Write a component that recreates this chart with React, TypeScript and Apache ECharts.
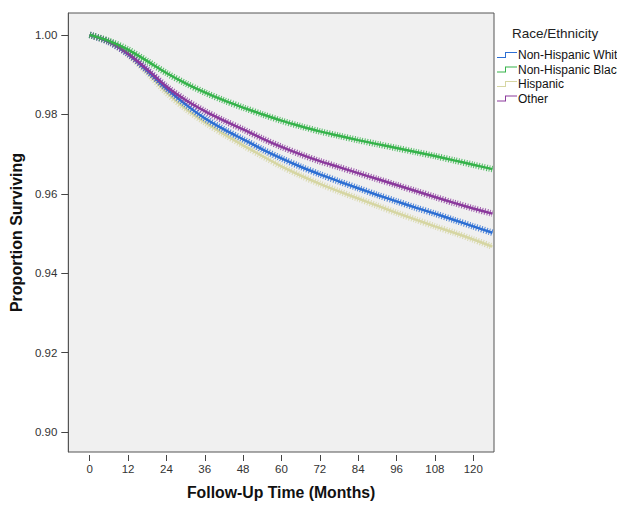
import React, { useEffect, useRef } from "react";
import * as echarts from "echarts";

const months = [0, 6, 12, 18, 24, 30, 36, 42, 48, 54, 60, 66, 72, 78, 84, 90, 96, 102, 108, 114, 120, 126];
const white = [1.0, 0.9982, 0.9952, 0.991, 0.9865, 0.9825, 0.979, 0.9762, 0.9737, 0.9712, 0.9689, 0.9668, 0.9649, 0.9631, 0.9614, 0.9597, 0.9581, 0.9565, 0.955, 0.9534, 0.9518, 0.9502];
const black = [1.0, 0.9985, 0.9963, 0.9934, 0.9904, 0.9878, 0.9855, 0.9835, 0.9817, 0.98, 0.9784, 0.977, 0.9757, 0.9746, 0.9735, 0.9725, 0.9715, 0.9705, 0.9695, 0.9684, 0.9673, 0.9662];
const hispanic = [1.0, 0.9982, 0.995, 0.9905, 0.9855, 0.9814, 0.978, 0.975, 0.9722, 0.9695, 0.9669, 0.9646, 0.9625, 0.9606, 0.9588, 0.957, 0.9552, 0.9535, 0.9518, 0.9502, 0.9485, 0.9467];
const other = [1.0, 0.9983, 0.9953, 0.9913, 0.987, 0.9836, 0.9808, 0.9784, 0.9762, 0.9739, 0.9718, 0.9699, 0.9682, 0.9667, 0.9652, 0.9637, 0.9622, 0.9607, 0.9592, 0.9577, 0.9563, 0.955];

const groupNames = ["Non-Hispanic White", "Non-Hispanic Black", "Hispanic", "Other"];
const groupColors = ["#2d6fd3", "#36b34b", "#d6d6a3", "#8b3a9c"];
const groupValues = [white, black, hispanic, other];

const xTicks = [0, 12, 24, 36, 48, 60, 72, 84, 96, 108, 120];
const yTicks = [0.9, 0.92, 0.94, 0.96, 0.98, 1.0];

const FONT = "'Liberation Sans', Arial, sans-serif";
const STEP_ICON = "path://M0,5 L8,5 L8,0 L20,0 L20,1 L9,1 L9,6 L0,6 Z";

export default function App() {
  const ref = useRef<HTMLDivElement>(null);
  useEffect(() => {
    if (!ref.current) return;
    const chart = echarts.init(ref.current, null, { renderer: "svg" });
    const series: any[] = [];
    const drawOrder = [2, 0, 3, 1];
    drawOrder.forEach((i) => {
      const data = months.map((m, k) => [m, groupValues[i][k]]);
      series.push({
        type: "line",
        name: groupNames[i],
        data,
        smooth: 0.3,
        showSymbol: false,
        color: groupColors[i],
        lineStyle: { color: groupColors[i], width: 2.5 },
        z: 3,
      });
      series.push({
        type: "line",
        name: groupNames[i],
        data,
        smooth: 0.3,
        showSymbol: false,
        color: groupColors[i],
        lineStyle: { color: groupColors[i], width: 6.5, type: [1, 1.6], opacity: 0.85 },
        z: 3,
      });
    });
    chart.setOption({
      animation: false,
      backgroundColor: "#ffffff",
      textStyle: { fontFamily: FONT },
      title: {
        text: "Race/Ethnicity",
        left: 512,
        top: 26,
        padding: 0,
        textStyle: { fontSize: 13.5, fontWeight: "normal", color: "#222", fontFamily: FONT },
      },
      legend: {
        data: groupNames.map((n) => ({ name: n, icon: STEP_ICON })),
        orient: "vertical",
        left: 497,
        top: 49,
        padding: 0,
        itemWidth: 20,
        itemHeight: 6,
        itemGap: 2.5,
        selectedMode: false,
        textStyle: { fontSize: 12, color: "#111", fontFamily: FONT, padding: [0, 0, 0, -4] },
      },
      grid: {
        left: 64,
        top: 13,
        right: 123,
        bottom: 50,
        show: true,
        backgroundColor: "#f0f0f0",
        borderColor: "#555",
        borderWidth: 1,
      },
      xAxis: {
        type: "value",
        min: -6.7,
        max: 126.5,
        offset: 3,
        name: "Follow-Up Time (Months)",
        nameLocation: "middle",
        nameGap: 29,
        nameTextStyle: { fontSize: 15.8, fontWeight: "bold", color: "#111", fontFamily: FONT },
        axisLine: { show: false, onZero: false },
        axisTick: { show: true, length: 6, customValues: xTicks, lineStyle: { color: "#444" } },
        axisLabel: { customValues: xTicks, fontSize: 11.5, color: "#333", margin: 8, fontFamily: FONT },
        splitLine: { show: false },
      },
      yAxis: {
        type: "value",
        min: 0.895,
        max: 1.0055,
        name: "Proportion Surviving",
        nameLocation: "middle",
        nameGap: 39,
        nameRotate: 90,
        nameTextStyle: { fontSize: 16, fontWeight: "bold", color: "#111", fontFamily: FONT },
        axisLine: { show: true, onZero: false, lineStyle: { color: "#555" } },
        axisTick: { show: true, length: 7, customValues: yTicks, lineStyle: { color: "#444" } },
        axisLabel: {
          customValues: yTicks,
          fontSize: 11.5,
          color: "#333",
          margin: 11,
          fontFamily: FONT,
          formatter: (v: number) => v.toFixed(2),
        },
        splitLine: { show: false },
      },
      series,
    });
    return () => chart.dispose();
  }, []);
  return (
    <div
      ref={ref}
      style={{ position: "fixed", left: 0, top: 0, width: 617, height: 505 }}
    />
  );
}
